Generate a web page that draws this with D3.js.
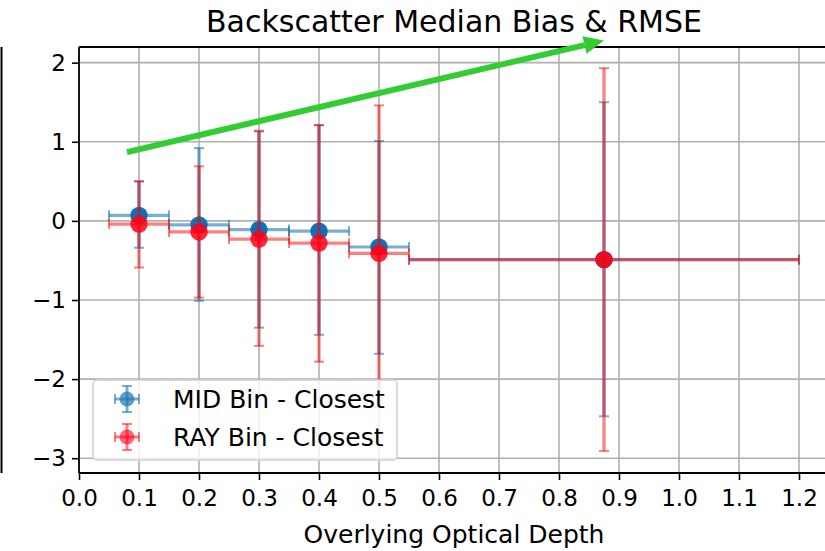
<!DOCTYPE html>
<html>
<head>
<meta charset="utf-8">
<script src="https://cdn.jsdelivr.net/npm/d3@7/dist/d3.min.js"></script>
<style>
  html, body { margin: 0; padding: 0; background: #fff; overflow: hidden; }
  svg { display: block; font-family: "DejaVu Sans", sans-serif; }
</style>
</head>
<body>
<svg id="chart" width="825" height="551"></svg>
<script>
// ---- data ----
const binLeft   = [0.05, 0.15, 0.25, 0.35, 0.45, 0.55];
const binRight  = [0.15, 0.25, 0.35, 0.45, 0.55, 1.20];
const binCenter = [0.10, 0.20, 0.30, 0.40, 0.50, 0.875];

const midMedian = [0.07, -0.05, -0.11, -0.13, -0.33, -0.49];
const midUpper  = [0.50, 0.92, 1.13, 1.21, 1.01, 1.50];
const midLower  = [-0.34, -1.01, -1.35, -1.44, -1.68, -2.47];

const rayMedian = [-0.04, -0.14, -0.23, -0.28, -0.41, -0.49];
const rayUpper  = [0.50, 0.69, 1.14, 1.21, 1.46, 1.93];
const rayLower  = [-0.59, -0.97, -1.58, -1.78, -2.35, -2.91];

const seriesNames = ["MID Bin - Closest", "RAY Bin - Closest"];
const xTicks = [0.0, 0.1, 0.2, 0.3, 0.4, 0.5, 0.6, 0.7, 0.8, 0.9, 1.0, 1.1, 1.2];
const yTicks = [-3, -2, -1, 0, 1, 2];
const arrowFrom = [0.08, 0.87];
const arrowTo   = [0.875, 2.28];

(function () {
// ---- layout ----
const svg = d3.select("#chart");
const pL = 79, pR = 829, pT = 47, pB = 473;
const x = d3.scaleLinear().domain([0, 1.25]).range([pL, pR]);
const y = d3.scaleLinear().domain([-3.187, 2.198]).range([pB, pT]);

// left neighbour spine
svg.append("line").attr("x1", 1.5).attr("x2", 1.5).attr("y1", pT).attr("y2", pB)
  .attr("stroke", "#000").attr("stroke-width", 2);

// grid
const grid = svg.append("g");
grid.selectAll(".gx").data(xTicks).enter().append("line")
  .attr("x1", d => x(d)).attr("x2", d => x(d)).attr("y1", pT).attr("y2", pB)
  .attr("stroke", "#b0b0b0").attr("stroke-width", 1.6);
grid.selectAll(".gy").data(yTicks).enter().append("line")
  .attr("x1", pL).attr("x2", pR).attr("y1", d => y(d)).attr("y2", d => y(d))
  .attr("stroke", "#b0b0b0").attr("stroke-width", 1.6);

// axes
const xAxis = d3.axisBottom(x).tickValues(xTicks).tickFormat(d => d.toFixed(1)).tickSizeOuter(0).tickSize(7).tickPadding(6);
const yAxis = d3.axisLeft(y).tickValues(yTicks).tickFormat(d => d < 0 ? "\u2212" + Math.abs(d) : String(d)).tickSizeOuter(0).tickSize(7).tickPadding(6);
const gx = svg.append("g").attr("transform", `translate(0,${pB})`).call(xAxis);
const gy = svg.append("g").attr("transform", `translate(${pL},0)`).call(yAxis);
[gx, gy].forEach(g => {
  g.select(".domain").remove();
  g.selectAll(".tick line").attr("stroke", "#000").attr("stroke-width", 1.6);
  g.selectAll(".tick text").attr("fill", "#000").style("font-size", "23px").style("font-family", "DejaVu Sans");
});
gx.selectAll(".tick text").attr("dy", "0.85em");

// data
const plot = svg.append("g");
function drawSeries(med, lo, hi, barColor, barAlpha, markColor, markAlpha) {
  const idx = d3.range(med.length);
  const g = plot.append("g");
  const cap = 5;
  g.selectAll(".hb").data(idx).enter().append("line")
    .attr("x1", i => x(binLeft[i])).attr("x2", i => x(binRight[i]))
    .attr("y1", i => y(med[i])).attr("y2", i => y(med[i]))
    .attr("stroke", barColor).attr("stroke-opacity", barAlpha).attr("stroke-width", 3.2);
  g.selectAll(".vb").data(idx).enter().append("line")
    .attr("x1", i => x(binCenter[i])).attr("x2", i => x(binCenter[i]))
    .attr("y1", i => y(lo[i])).attr("y2", i => y(hi[i]))
    .attr("stroke", barColor).attr("stroke-opacity", barAlpha).attr("stroke-width", 3.2);
  idx.forEach(i => {
    [binLeft[i], binRight[i]].forEach(v => {
      g.append("line").attr("x1", x(v)).attr("x2", x(v))
        .attr("y1", y(med[i]) - cap).attr("y2", y(med[i]) + cap)
        .attr("stroke", barColor).attr("stroke-opacity", barAlpha).attr("stroke-width", 2);
    });
    [lo[i], hi[i]].forEach(v => {
      g.append("line").attr("x1", x(binCenter[i]) - cap).attr("x2", x(binCenter[i]) + cap)
        .attr("y1", y(v)).attr("y2", y(v))
        .attr("stroke", barColor).attr("stroke-opacity", barAlpha).attr("stroke-width", 2);
    });
  });
  g.selectAll("circle").data(idx).enter().append("circle")
    .attr("cx", i => x(binCenter[i])).attr("cy", i => y(med[i])).attr("r", 8.7)
    .attr("fill", markColor).attr("fill-opacity", markAlpha);
}
drawSeries(midMedian, midLower, midUpper, "#1f77b4", 0.6, "#0868b2", 0.95);
drawSeries(rayMedian, rayLower, rayUpper, "#ff0000", 0.5, "#ff0014", 0.85);

// spines
svg.append("line").attr("x1", pL).attr("x2", pL).attr("y1", pT).attr("y2", pB).attr("stroke", "#000").attr("stroke-width", 1.8);
svg.append("line").attr("x1", pL).attr("x2", pR).attr("y1", pB).attr("y2", pB).attr("stroke", "#000").attr("stroke-width", 1.8);
svg.append("line").attr("x1", pL).attr("x2", pR).attr("y1", pT).attr("y2", pT).attr("stroke", "#000").attr("stroke-width", 1.8);

// legend
const lg = svg.append("g");
lg.append("rect").attr("x", 93).attr("y", 380).attr("width", 304).attr("height", 80).attr("rx", 4)
  .attr("fill", "#fff").attr("fill-opacity", 0.8).attr("stroke", "#d0d0d0").attr("stroke-width", 1.5);
const legendItems = [
  {name: seriesNames[0], bar: "#1f77b4", ba: 0.6, mark: "#1f77b4", ma: 0.7},
  {name: seriesNames[1], bar: "#ff0000", ba: 0.5, mark: "#ff0020", ma: 0.6}
];
legendItems.forEach((it, k) => {
  const cx = 127, cy = 399 + k * 38;
  const gg = lg.append("g");
  gg.append("line").attr("x1", cx - 12).attr("x2", cx + 12).attr("y1", cy).attr("y2", cy)
    .attr("stroke", it.bar).attr("stroke-opacity", it.ba).attr("stroke-width", 3);
  gg.append("line").attr("x1", cx).attr("x2", cx).attr("y1", cy - 13).attr("y2", cy + 13)
    .attr("stroke", it.bar).attr("stroke-opacity", it.ba).attr("stroke-width", 3);
  [[cx - 12, cy - 5, cx - 12, cy + 5], [cx + 12, cy - 5, cx + 12, cy + 5],
   [cx - 5, cy - 13, cx + 5, cy - 13], [cx - 5, cy + 13, cx + 5, cy + 13]].forEach(c => {
    gg.append("line").attr("x1", c[0]).attr("y1", c[1]).attr("x2", c[2]).attr("y2", c[3])
      .attr("stroke", it.bar).attr("stroke-opacity", it.ba).attr("stroke-width", 2);
  });
  gg.append("circle").attr("cx", cx).attr("cy", cy).attr("r", 7.5).attr("fill", it.mark).attr("fill-opacity", it.ma);
  lg.append("text").attr("x", 173).attr("y", cy + 9).text(it.name)
    .style("font-size", "25px").attr("fill", "#000");
});

// arrow
const ax0 = x(arrowFrom[0]), ay0 = y(arrowFrom[1]), ax1 = x(arrowTo[0]), ay1 = y(arrowTo[1]);
const ang = Math.atan2(ay1 - ay0, ax1 - ax0);
const hl = 20, hw = 9;
const bx = ax1 - hl * Math.cos(ang), by = ay1 - hl * Math.sin(ang);
svg.append("line").attr("x1", ax0).attr("y1", ay0).attr("x2", bx).attr("y2", by)
  .attr("stroke", "#32cd32").attr("stroke-width", 6);
svg.append("path")
  .attr("d", `M${ax1},${ay1} L${bx - hw * Math.sin(ang)},${by + hw * Math.cos(ang)} L${bx + hw * Math.sin(ang)},${by - hw * Math.cos(ang)} Z`)
  .attr("fill", "#32cd32");

// title and label
svg.append("text").attr("x", (pL + pR) / 2).attr("y", 32).attr("text-anchor", "middle")
  .style("font-size", "30px").attr("fill", "#000").text("Backscatter Median Bias & RMSE");
svg.append("text").attr("x", (pL + pR) / 2).attr("y", 543).attr("text-anchor", "middle")
  .style("font-size", "25px").attr("fill", "#000").text("Overlying Optical Depth");
})();
</script>
</body>
</html>
